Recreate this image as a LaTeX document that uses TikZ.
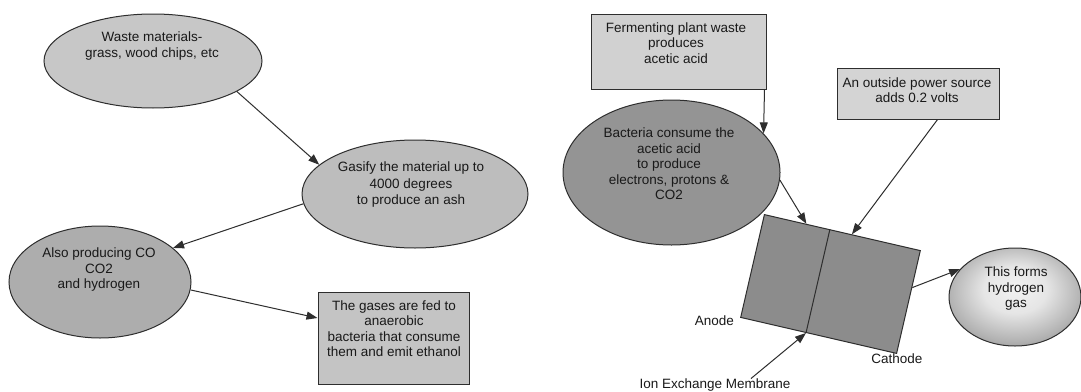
\documentclass[tikz,border=0pt]{standalone}
\usepackage{fontspec}
\setmainfont{Liberation Sans}
\usetikzlibrary{shapes.geometric,arrows.meta,calc}
\definecolor{wastec}{gray}{0.78}
\definecolor{gasifyc}{gray}{0.74}
\definecolor{alsoc}{gray}{0.68}
\definecolor{gasesc}{gray}{0.77}
\definecolor{fermc}{gray}{0.82}
\definecolor{bactc}{gray}{0.58}
\definecolor{powerc}{gray}{0.83}
\definecolor{cellc}{gray}{0.55}
\definecolor{linec}{gray}{0.18}
\definecolor{textc}{gray}{0.1}
\pgfdeclareradialshading{hydshade}{\pgfpoint{0bp}{5bp}}{color(0bp)=(black!5); color(12bp)=(black!10); color(25bp)=(black!30); color(38bp)=(black!55); color(50bp)=(black!70)}
\begin{document}
\begin{tikzpicture}[x=1pt,y=-1pt,
  ell/.style={ellipse, draw=linec, line width=1pt, inner sep=0pt},
  box/.style={rectangle, draw=linec, line width=1pt, inner sep=0pt},
  txt/.style={align=center, inner sep=0pt, text=textc, font=\fontsize{13.5}{15.5}\selectfont},
  arr/.style={draw=linec, line width=1pt, -{Triangle[length=11pt,width=8pt]}},
  divider/.style={draw=linec, line width=1pt}]
\fill[white] (0,0) rectangle (1081,391);
\useasboundingbox (0,0) rectangle (1081,391);

% left chain
\node[ell, fill=wastec, minimum width=218, minimum height=94] (waste) at (153,61) {};
\node[txt] (wasteT) at (152,46) {Waste materials-\\grass, wood chips, etc};
\node[ell, fill=gasifyc, minimum width=226, minimum height=108] (gasify) at (415,194) {};
\node[txt, font=\fontsize{13.5}{16.5}\selectfont] (gasifyT) at (411,185) {Gasify the material up to\\4000 degrees\\to produce an ash};
\node[ell, fill=alsoc, minimum width=182, minimum height=112] (also) at (100,282) {};
\node[txt] (alsoT) at (99,270) {Also producing CO\\CO2\\and hydrogen};
\node[box, fill=gasesc, minimum width=151, minimum height=92] (gases) at (393.5,338) {};
\node[txt] (gasesT) at (394,328.5) {The gases are fed to\\anaerobic\\bacteria that consume\\them and emit ethanol};

\draw[arr] (waste.-20) -- (gasify.163);
\draw[arr] (gasify.185.6) -- (also.25.4);
\draw[arr] (also.-5) -- ($(gases.west)+(0,-20)$);

% right part
\node[box, fill=fermc, minimum width=175, minimum height=75] (ferm) at (678.5,51.5) {};
\node[txt] (fermT) at (676,43) {Fermenting plant waste\\produces\\acetic acid};
\node[ell, fill=bactc, minimum width=217, minimum height=145] (bact) at (671.5,172.5) {};
\node[txt] (bactT) at (669,164) {Bacteria consume the\\acetic acid\\to produce\\electrons, protons \&\\CO2};
\node[box, fill=powerc, minimum width=162, minimum height=51] (power) at (918,93.5) {};
\node[txt] (powerT) at (917,90) {An outside power source\\adds 0.2 volts};
\node[box, fill=cellc, minimum width=160, minimum height=105.5, rotate=-13] (cell) at (830.5,284) {};
\draw[divider] ($(cell.north west)!0.42!(cell.north east)$) -- ($(cell.south west)!0.42!(cell.south east)$);
\node[ell, shading=hydshade, minimum width=132, minimum height=98] (hyd) at (1015,297) {};
\node[txt] (hydT) at (1016,289) {This forms\\hydrogen\\gas};
\node[txt, anchor=east] (anode) at ($(cell.south west)+(-6,3)$) {Anode};
\node[txt] (cathode) at ($(cell.south east)+(0,5)$) {Cathode};
\node[txt] (ion) at (715,385) {Ion Exchange Membrane};

\draw[arr] ($(ferm.south east)+(-2,0)$) -- (bact.23.3);
\draw[arr] (bact.-4.5) -- ($(cell.north west)!0.27!(cell.north east)$);
\draw[arr] ($(power.south west)!0.62!(power.south east)$) -- ($(cell.north west)!0.56!(cell.north east)$);
\draw[arr] ($(cell.north east)!0.36!(cell.south east)$) -- (hyd.153.9);
\draw[arr] ($(ion.north)+(36,0)$) -- ($(cell.south west)!0.42!(cell.south east)$);
\end{tikzpicture}
\end{document}
